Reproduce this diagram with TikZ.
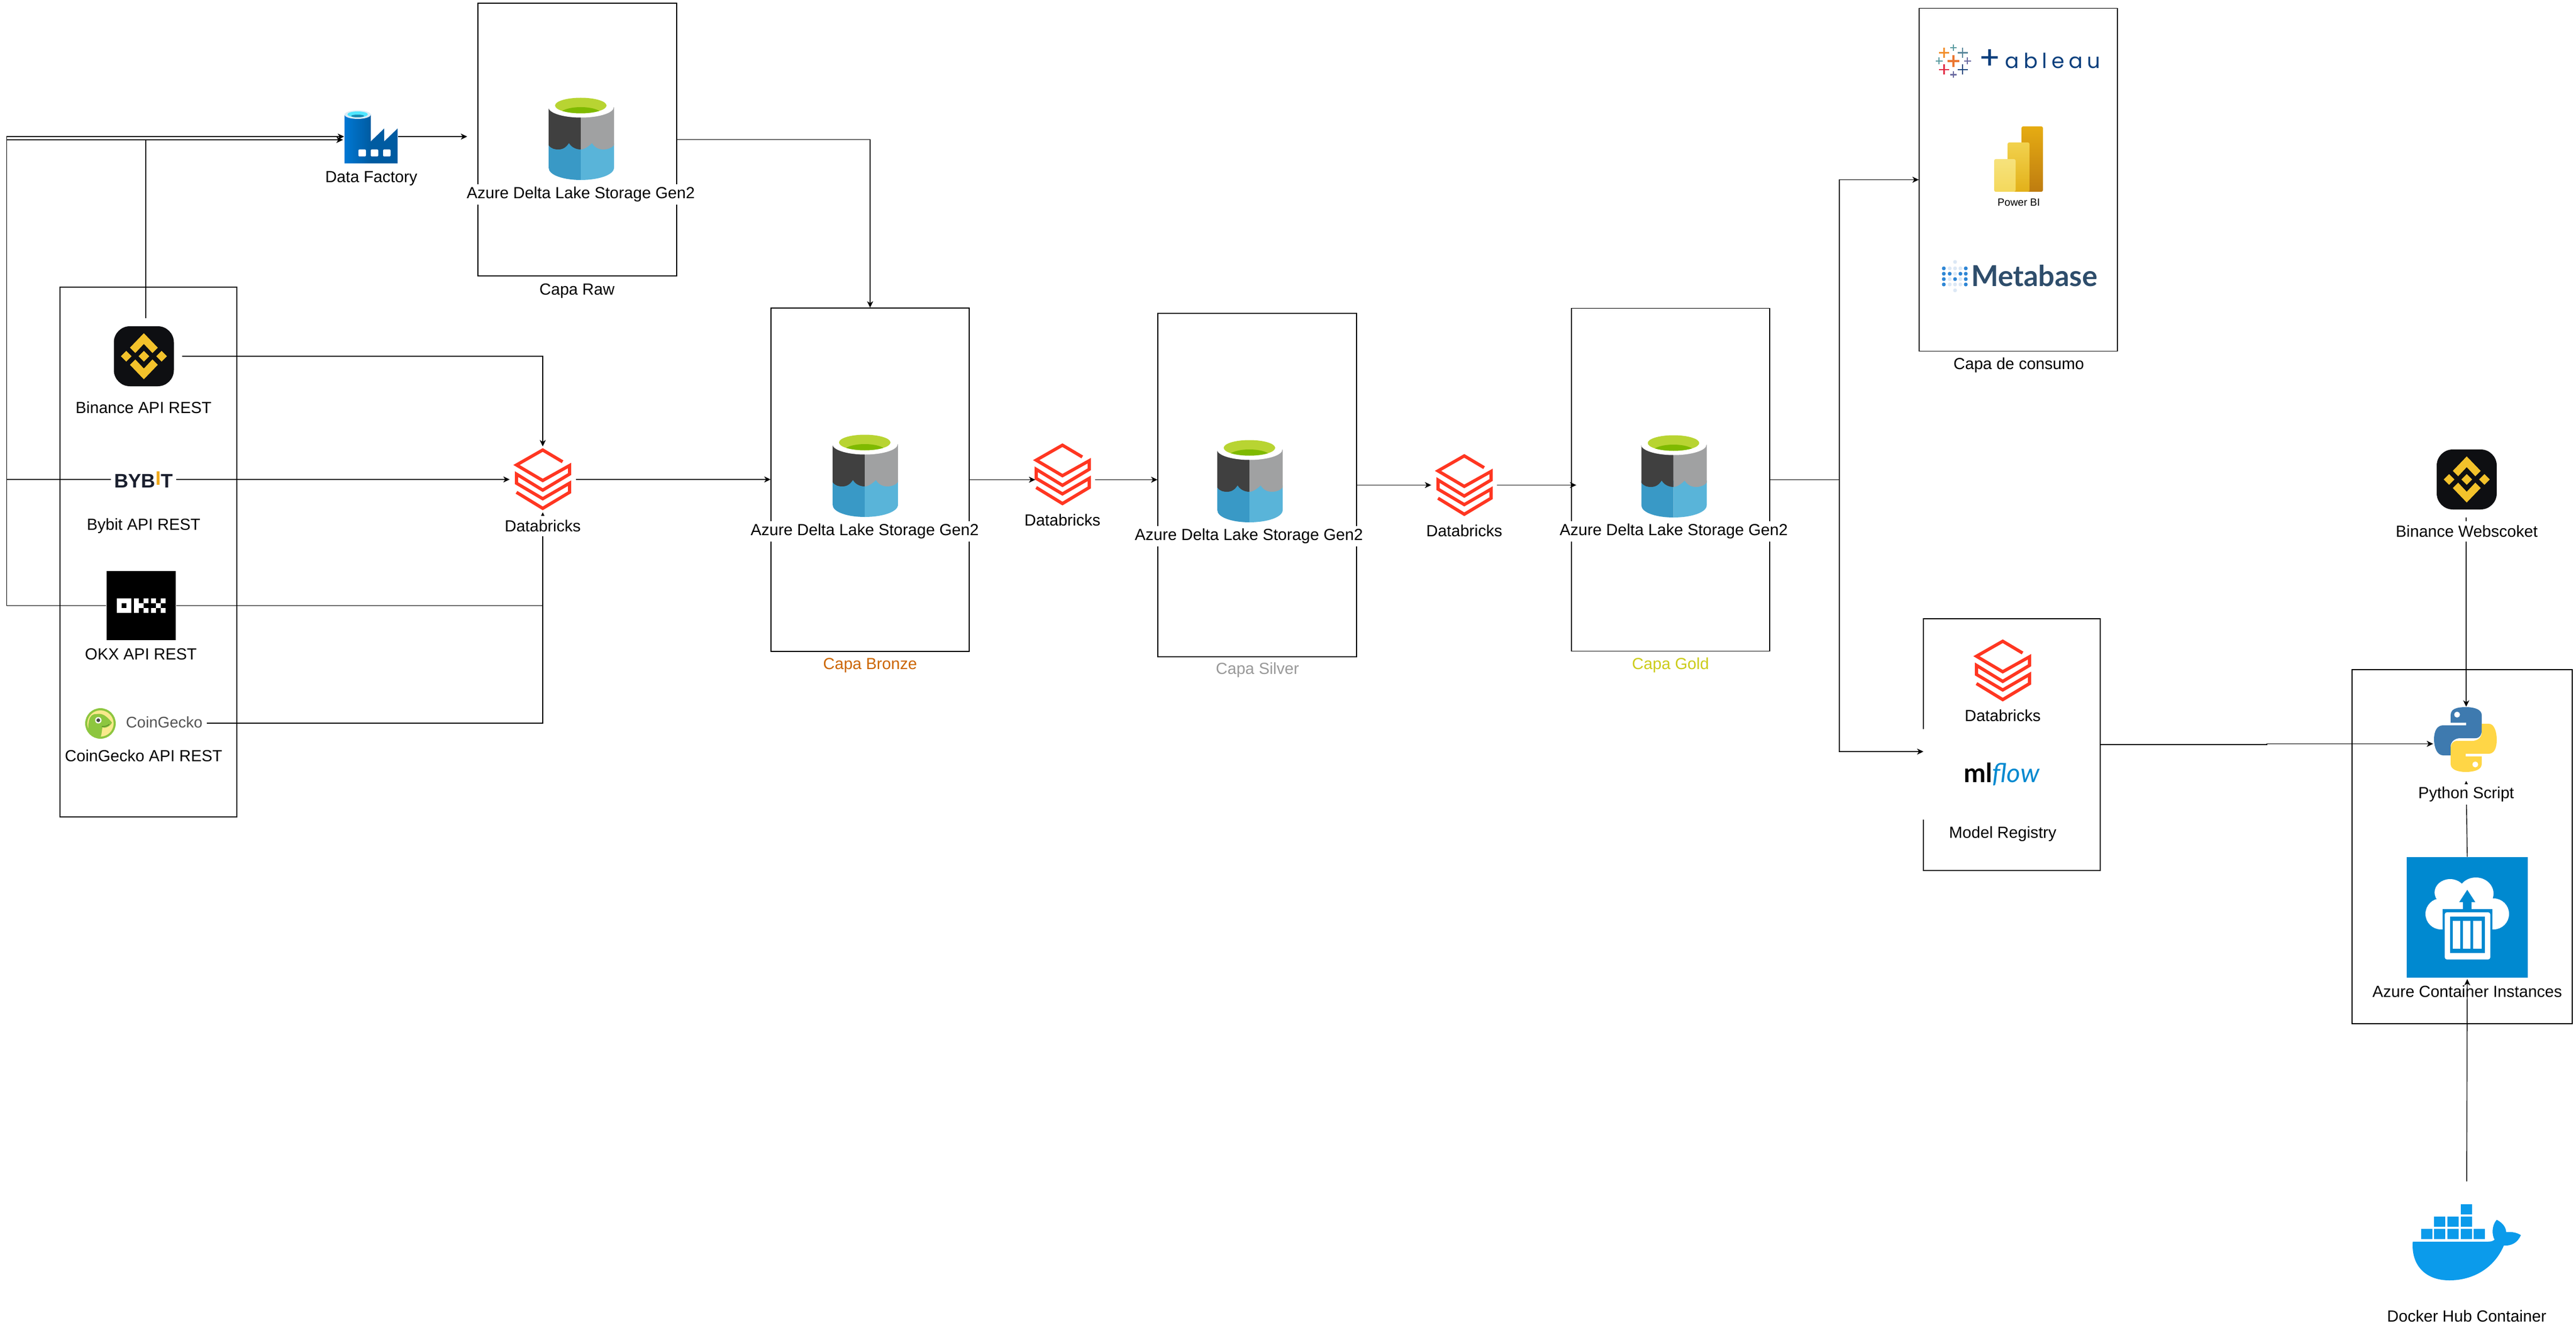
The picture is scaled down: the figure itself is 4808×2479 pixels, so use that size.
\documentclass[tikz,border=0pt]{standalone}
\usepackage{fontspec}
\usetikzlibrary{arrows.meta,calc}
\setmainfont{Liberation Sans}
\newfontfamily\latofont{Lato}
\newfontfamily\popfont{Poppins}
\definecolor{bronzec}{HTML}{CC6600}
\definecolor{silverc}{HTML}{999999}
\definecolor{goldc}{HTML}{CCCC1A}
\definecolor{dbred}{HTML}{FF3621}
\definecolor{bnbg}{HTML}{0E0F12}
\definecolor{bny}{HTML}{F3C22B}
\definecolor{dockc}{HTML}{0B9BEB}
\definecolor{acic}{HTML}{0089D0}
\definecolor{metac}{HTML}{2E4D6B}
\definecolor{metab}{HTML}{2E86D5}
\definecolor{metal}{HTML}{DCE8F5}
\definecolor{tabblue}{HTML}{0B3F7D}
\definecolor{gecko}{HTML}{8DC63F}
\definecolor{bybitc}{HTML}{1A1F2E}
\definecolor{bybito}{HTML}{F0A818}
\definecolor{dwa}{HTML}{3999C6}
\definecolor{dwb}{HTML}{59B4D9}
\definecolor{dda}{HTML}{404040}
\definecolor{ddb}{HTML}{A0A1A2}
\definecolor{dga}{HTML}{B8D432}
\definecolor{dgb}{HTML}{7FBA00}
\tikzset{
  x=0.01cm,y=-0.01cm,
  panel/.style 2 args={draw=black,line width=0.4pt,minimum width=#1*0.01cm,minimum height=#2*0.01cm,inner sep=0pt},
  hit/.style 2 args={minimum width=#1*0.01cm,minimum height=#2*0.01cm,inner sep=0pt},
  lbl/.style={fill=white,inner xsep=0pt,inner ysep=0pt,minimum height=0.38cm,font=\fontsize{8.54}{10}\selectfont},
  plainlbl/.style={inner sep=0pt,font=\fontsize{8.54}{10}\selectfont},
  conn/.style={draw=black,line width=0.4pt,-{Stealth[length=3.4pt,width=3.2pt,inset=1pt]}}
}
\newcommand{\deltaicon}[2]{%
 \begin{scope}[shift={(#1,#2)}]
    \fill[dwa] (0,85) -- (0,131) .. controls (0,145) and (28,154) .. (60,154) -- (60,85) -- cycle;
    \fill[dwb] (60,85) -- (60,154) .. controls (92,154) and (122,145) .. (122,131) -- (122,85) -- cycle;
    \fill[dda] (0,18) -- (0,89) .. controls (5,96) and (12,97) .. (18,97) .. controls (28,97) and (33,92) .. (38,85) .. controls (42,92) and (50,97) .. (60,97) -- (60,18) -- cycle;
    \fill[ddb] (60,18) -- (60,97) .. controls (66,97) and (74,92) .. (81,85) .. controls (85,92) and (92,97) .. (102,97) .. controls (110,97) and (118,94) .. (122,89) -- (122,18) -- cycle;
    \fill[white] (60.5,18) ellipse [x radius=61,y radius=19.5];
    \fill[dga] (60,15) ellipse [x radius=48,y radius=14.5];
    \begin{scope}
      \clip (60,15) ellipse [x radius=48,y radius=14.5];
      \fill[dgb] (60,32) ellipse [x radius=40,y radius=14];
    \end{scope}
 \end{scope}}
\newcommand{\bnicon}[2]{%
 \begin{scope}[shift={(#1,#2)}]
    \fill[bnbg,rounded corners=0.3cm] (-56,-56) rectangle (56,56);
    \fill[bny] (0,-43) -- (26,-16) -- (16,-6) -- (0,-23) -- (-16,-6) -- (-26,-16) -- cycle;
    \fill[bny] (0,43) -- (26,16) -- (16,6) -- (0,23) -- (-16,6) -- (-26,16) -- cycle;
    \fill[bny] (0,-10) -- (10,0) -- (0,10) -- (-10,0) -- cycle;
    \fill[bny] (-33,-10) -- (-23,0) -- (-33,10) -- (-43,0) -- cycle;
    \fill[bny] (33,-10) -- (43,0) -- (33,10) -- (23,0) -- cycle;
 \end{scope}}
\newcommand{\dbshape}[2]{%
 \begin{scope}[shift={(#1,#2)}]
  \draw[dbred,line width=1.7pt,line join=miter] (37,24) -- (0,2) -- (-49,30) -- (0,59) -- (50,31) -- (50,47) -- (0,77) -- (-49,47) -- (-49,64) -- (0,93) -- (50,64) -- (50,81) -- (0,111) -- (-49,81);
 \end{scope}}
\newcommand{\tabcross}[5]{%
  \draw[#5,line width=#4pt] (#1-#3,#2) -- (#1+#3,#2) (#1,#2-#3) -- (#1,#2+#3);}
\newcommand{\metadot}[3]{\fill[#3] (#1,#2) ellipse [x radius=3.6,y radius=3.6];}
\begin{document}
\begin{tikzpicture}
\useasboundingbox (0,0) rectangle (4808,2479);
\fill[white] (0,0) rectangle (4808,2479);

% panels
\node[panel={371}{509}] (raw) at (1077.5,260.5) {};
\node[panel={330}{989}] (sources) at (277,1030.5) {};
\node[panel={370}{641}] (bronze) at (1624,895.5) {};
\node[panel={371}{641}] (silver) at (2346.5,905.5) {};
\node[panel={370}{640}] (gold) at (3118,895.5) {};
\node[panel={370}{640}] (consumo) at (3767,335.5) {};
\node[panel={330}{470}] (model) at (3755,1390) {};
\node[panel={411}{661}] (acibox) at (4595.5,1580.5) {};
\fill[white] (3587,1361) rectangle (3600,1530);

% connector end boxes (image frames of the logos)
\node[hit={99}{60}] (df) at (692.5,255) {};
\node[hit={134}{140}] (binance) at (272,665) {};
\node[hit={120}{40}] (bybit) at (268,895) {};
\node[hit={129}{129}] (okx) at (263.5,1130.5) {};
\node[hit={240}{60}] (coin) at (265,1350) {};
\node[hit={122}{122}] (dba) at (1013,895) {};
\node[hit={110}{113}] (dbb) at (1988,895.5) {};
\node[hit={121}{113}] (dbc) at (2732.5,905.5) {};
\node[hit={112}{126}] (bws) at (4603,902) {};
\node[hit={122}{137}] (py) at (4603,1388.5) {};
\node[hit={226}{227}] (aci) at (4605,1713.5) {};
\node[hit={220}{200}] (docker) at (4604,2306) {};
\coordinate (rail) at (12.5,0);
\coordinate (dfin) at (640,261);
\coordinate (rawin) at (872,255);
\coordinate (goldin) at (2942,905.5);
\coordinate (bus) at (3433,895.5);
\coordinate (modelin) at (3590,1403);
\coordinate (jog) at (4231,1390);

% connectors
\draw[conn] (okx.west) -- (okx.west -| rail) -- (rail |- df.west) -- (df.west);
\draw[conn] (bybit.west) -- (bybit.west -| rail) -- (rail |- dfin) -- (dfin);
\draw[conn] (binance.north) |- (dfin);
\draw[conn] (df.east) -- (rawin);
\draw[conn] (raw.east) -| (bronze.north);
\draw[conn] (binance.east) -| (dba.north);
\draw[conn] (bybit.east) -- (dba.west);
\draw[conn] (okx.east) -| (dba.south);
\draw[conn] (coin.east) -| (dba.south);
\draw[conn] (dba.east) -- (dba.east -| bronze.west);
\draw[conn] (bronze.east) -- (dbb.west);
\draw[conn] (dbb.east) -- (dbb.east -| silver.west);
\draw[conn] (silver.east) -- (dbc.west);
\draw[conn] (dbc.east) -- (goldin);
\draw[line width=0.4pt] (gold.east) -- (bus);
\draw[conn] (bus) |- (consumo.west);
\draw[conn] (bus) |- (modelin);
\draw[conn] (model.east) -- (jog) -- (jog |- py.west) -- (py.west);
\draw[conn] (bws.south) -- (py.north);
\draw[conn] (aci.north) -- (py.south);

% Data Factory icon
\fill[color={rgb,255:red,0;green,91;blue,161}] (692,264) -- (717,240) -- (717,264) -- (742,240) -- (742,305) -- (692,305) -- cycle;
\shade[left color={rgb,255:red,0;green,120;blue,212},right color={rgb,255:red,0;green,91;blue,161}] (643,214) rectangle (692,305);
\fill[color={rgb,255:red,220;green,235;blue,245}] (667.5,214) ellipse [x radius=24.5,y radius=8];
\fill[color={rgb,255:red,80;green,230;blue,255}] (667.5,213.5) ellipse [x radius=19,y radius=5.5];
\fill[color={rgb,255:red,25;green,138;blue,179}] (667.5,216.5) ellipse [x radius=12,y radius=2.5];
\fill[white,rounded corners=0.02cm] (669,279) rectangle (683,292);
\fill[white,rounded corners=0.02cm] (692,279) rectangle (706,292);
\fill[white,rounded corners=0.02cm] (715,279) rectangle (729,292);

% Delta icons
\deltaicon{1024}{182}
\deltaicon{1554}{811}
\deltaicon{2272}{821}
\deltaicon{3063.5}{812}

% Databricks icons
\dbshape{1013}{838}
\dbshape{1983}{829}
\dbshape{2733}{849}
\dbshape{3738}{1195}

% Binance
\bnicon{268.5}{665}
\bnicon{4604}{895}

% Bybit
\node[inner sep=0pt,font=\fontsize{10.4}{12}\selectfont\bfseries,text=bybitc] (bybitlogo) at (268,895.5) {BYB\raisebox{0.05cm}{\textcolor{bybito}{I}}T};

% OKX
\fill[black] (199,1066) rectangle (328,1195);
\begin{scope}[shift={(218,1117)},white]
  \fill[even odd rule] (0,0) rectangle (27,27) (9,9) rectangle (18,18);
  \fill (32,0) rectangle (41,27) (41,9) rectangle (50,18) (50,0) rectangle (59,9) (50,18) rectangle (59,27);
  \fill (64,0) rectangle (73,9) (64,18) rectangle (73,27) (73,9) rectangle (82,18) (82,0) rectangle (91,9) (82,18) rectangle (91,27);
\end{scope}

% CoinGecko logo
\fill[gecko] (187.5,1350.5) circle (28.5);
\fill[color={rgb,255:red,249;green,233;blue,140}] (187.5,1350.5) circle (24.5);
\begin{scope}
  \clip (187.5,1350.5) circle (26);
  \fill[gecko] (166,1380) .. controls (163,1350) and (165,1332) .. (180,1333) .. controls (190,1331) and (198,1335) .. (209,1349) .. controls (205,1357) and (195,1360) .. (191,1358) .. controls (190,1365) and (190,1372) .. (186,1380) -- cycle;
\end{scope}
\fill[white] (183.5,1344.5) circle (6);
\fill[color={rgb,255:red,70;green,70;blue,70}] (183.5,1344.5) circle (3.5);
\draw[color={rgb,255:red,90;green,140;blue,40},line width=0.4pt] (190,1356) .. controls (195,1357) and (201,1355) .. (204,1352);
\node[inner sep=0pt,text=black!67,font=\fontsize{8.2}{10}\selectfont] (cointext) at (306.5,1348) {CoinGecko};

% Tableau
\tabcross{3645.7}{114}{11}{1}{color={rgb,255:red,235;green,120;blue,50}}
\tabcross{3628.3}{98.5}{9.5}{0.8}{color={rgb,255:red,242;green,142;blue,43}}
\tabcross{3663}{98.5}{9.5}{0.8}{color={rgb,255:red,89;green,135;blue,155}}
\tabcross{3628.3}{130}{9.5}{0.8}{color={rgb,255:red,225;green,40;blue,65}}
\tabcross{3663}{130}{9.5}{0.8}{color={rgb,255:red,25;green,70;blue,125}}
\tabcross{3645.7}{89}{6}{0.6}{color={rgb,255:red,90;green,155;blue,160}}
\tabcross{3619.3}{114}{6.5}{0.6}{color={rgb,255:red,90;green,155;blue,160}}
\tabcross{3672}{114}{6.5}{0.6}{color={rgb,255:red,106;green,106;blue,160}}
\tabcross{3645.7}{139.5}{6}{0.6}{color={rgb,255:red,106;green,106;blue,160}}
\node[inner sep=0pt,text=tabblue,font=\popfont\fontsize{11}{13}\selectfont] (tableau) at (3807,111) {\makebox[2.26cm][s]{\raisebox{-0.02cm}{\fontsize{17}{17}\selectfont +}\hfil a\hfil b\hfil l\hfil e\hfil a\hfil u}};

% Power BI
\shade[top color={rgb,255:red,230;green,172;blue,18},bottom color={rgb,255:red,190;green,124;blue,16},rounded corners=0.03cm] (3773,236) rectangle (3813,358);
\shade[top color={rgb,255:red,242;green,210;blue,78},bottom color={rgb,255:red,226;green,176;blue,25},rounded corners=0.03cm] (3747,266) rectangle (3788,358);
\shade[top color={rgb,255:red,246;green,226;blue,124},bottom color={rgb,255:red,244;green,216;blue,92},rounded corners=0.03cm] (3722,297) rectangle (3762,358);
\node[inner sep=0pt,font=\fontsize{5.55}{7}\selectfont] (pbi) at (3768,378) {Power BI};

% Metabase
\foreach \xx/\yy/\cc in {3649/489/metal,3628/501/metab,3639/501/metal,3649/501/metal,3659/501/metal,3669/501/metab,3628/511/metab,3639/511/metab,3649/511/metal,3659/511/metab,3669/511/metab,3628/521/metab,3639/521/metal,3649/521/metab,3659/521/metal,3669/521/metab,3628/531/metab,3639/531/metal,3649/531/metal,3659/531/metal,3669/531/metab,3649/542/metal}{\metadot{\xx}{\yy}{\cc}}
\node[inner sep=0pt,text=metac,font=\latofont\bfseries\fontsize{15.3}{18}\selectfont] (metabase) at (3797,515) {Metabase};

% mlflow
\node[inner sep=0pt,font=\latofont\bfseries\fontsize{14}{18}\selectfont] (mlflow) at (3736,1445) {ml{\color{acic}\itshape\mdseries flow}};

% Python logo
\fill[color={rgb,255:red,62;green,122;blue,175}] (4602,1320) .. controls (4586,1320) and (4574,1323) .. (4574,1335) -- (4574,1349) -- (4603,1349) -- (4603,1354) -- (4560,1354) .. controls (4549,1354) and (4543,1364) .. (4543,1380) .. controls (4543,1396) and (4549,1410) .. (4560,1410) -- (4574,1410) -- (4574,1394) .. controls (4574,1384) and (4582,1378) .. (4592,1378) -- (4620,1378) .. controls (4628,1378) and (4632,1372) .. (4632,1364) -- (4632,1335) .. controls (4632,1325) and (4620,1320) .. (4602,1320) -- cycle;
\fill[color={rgb,255:red,255;green,214;blue,70}] (4602,1441) .. controls (4618,1441) and (4632,1437) .. (4632,1426) -- (4632,1412) -- (4602,1412) -- (4602,1407) -- (4645,1407) .. controls (4655,1407) and (4660,1397) .. (4660,1381) .. controls (4660,1365) and (4655,1351) .. (4645,1351) -- (4632,1351) -- (4632,1367) .. controls (4632,1377) and (4624,1383) .. (4614,1383) -- (4586,1383) .. controls (4578,1383) and (4574,1389) .. (4574,1397) -- (4574,1426) .. controls (4574,1436) and (4586,1441) .. (4602,1441) -- cycle;
\fill[white] (4586,1334) circle (5.5);
\fill[white] (4620,1427) circle (5.5);

% Azure Container Instances icon
\fill[acic] (4492,1600) rectangle (4718,1825);
\fill[white] (4573,1666) ellipse [x radius=29,y radius=25];
\fill[white] (4621,1668) ellipse [x radius=33,y radius=30];
\fill[white] (4556,1706) ellipse [x radius=29,y radius=29];
\fill[white] (4654,1706) ellipse [x radius=29,y radius=29];
\fill[white] (4560,1670) rectangle (4650,1735);
\fill[acic] (4559,1697) rectangle (4652,1737);
\fill[white,rounded corners=0.04cm] (4563,1703) rectangle (4648,1791);
\fill[acic] (4597,1684) rectangle (4613,1699);
\fill[acic] (4590,1684) -- (4605,1661) -- (4620,1684) -- cycle;
\fill[acic] (4573,1711) rectangle (4638,1779);
\fill[white] (4578,1719) rectangle (4592,1771);
\fill[white] (4597,1719) rectangle (4611,1771);
\fill[white] (4616,1719) rectangle (4632,1771);

% Docker
\foreach \xa/\xb/\ya/\yb in {4592.7/4613.7/2248.1/2267.4,4543.3/4564.3/2271.1/2290,4568/4589/2271.1/2290,4592.7/4613.7/2271.1/2290,4518.7/4539.7/2294/2313,4543.3/4564.3/2294/2313,4568/4589/2294/2313,4592.7/4613.7/2294/2313,4617.3/4638.3/2294/2313}{\fill[dockc] (\xa,\ya) rectangle (\xb,\yb);}
\fill[dockc] (4503.3,2317.8) -- (4643.3,2317.8) .. controls (4649,2317.8) and (4653,2317) .. (4656,2314) .. controls (4651,2306) and (4650,2288) .. (4660,2277) .. controls (4670,2282) and (4677,2290) .. (4677.7,2300) .. controls (4688,2299) and (4698,2301) .. (4705,2305.6) .. controls (4699,2320) and (4687,2326) .. (4673.3,2325) .. controls (4655,2368) and (4615,2390) .. (4571.7,2390) .. controls (4525,2390) and (4500,2360) .. (4503.3,2317.8) -- cycle;

% labels
\node[plainlbl] (ldf) at (693,333) {Data Factory};
\node[lbl] (lraw) at (1084,363) {Azure Delta Lake Storage Gen2};
\node[plainlbl] (lcraw) at (1077,543) {Capa Raw};
\node[plainlbl] (lbin) at (268,761) {Binance API REST};
\node[plainlbl] (lby) at (268,982) {Bybit API REST};
\node[plainlbl] (lok) at (263,1221) {OKX API REST};
\node[plainlbl] (lco) at (268,1411) {CoinGecko API REST};
\node[lbl] (ldba) at (1013,982) {Databricks};
\node[lbl] (lbr) at (1614,992) {Azure Delta Lake Storage Gen2};
\node[plainlbl,text=bronzec] (lcbr) at (1624,1242) {Capa Bronze};
\node[lbl] (ldbb) at (1983,971) {Databricks};
\node[lbl] (lsi) at (2331,1001) {Azure Delta Lake Storage Gen2};
\node[plainlbl,text=silverc] (lcsi) at (2347,1251) {Capa Silver};
\node[lbl] (ldbc) at (2733,991) {Databricks};
\node[lbl] (lgo) at (3124,992) {Azure Delta Lake Storage Gen2};
\node[plainlbl,text=goldc] (lcgo) at (3118,1242) {Capa Gold};
\node[plainlbl] (lcon) at (3768,682) {Capa de consumo};
\node[plainlbl] (ldbm) at (3738,1336) {Databricks};
\node[plainlbl] (lmr) at (3738,1557) {Model Registry};
\node[lbl] (lbws) at (4604,992) {Binance Webscoket};
\node[lbl] (lpy) at (4603,1483) {Python Script};
\node[plainlbl] (laci) at (4605,1851) {Azure Container Instances};
\node[plainlbl] (ldoc) at (4604,2457) {Docker Hub Container};

% on top of the label, as in the picture
\draw[conn] (docker.north) -- (aci.south);
\end{tikzpicture}
\end{document}
